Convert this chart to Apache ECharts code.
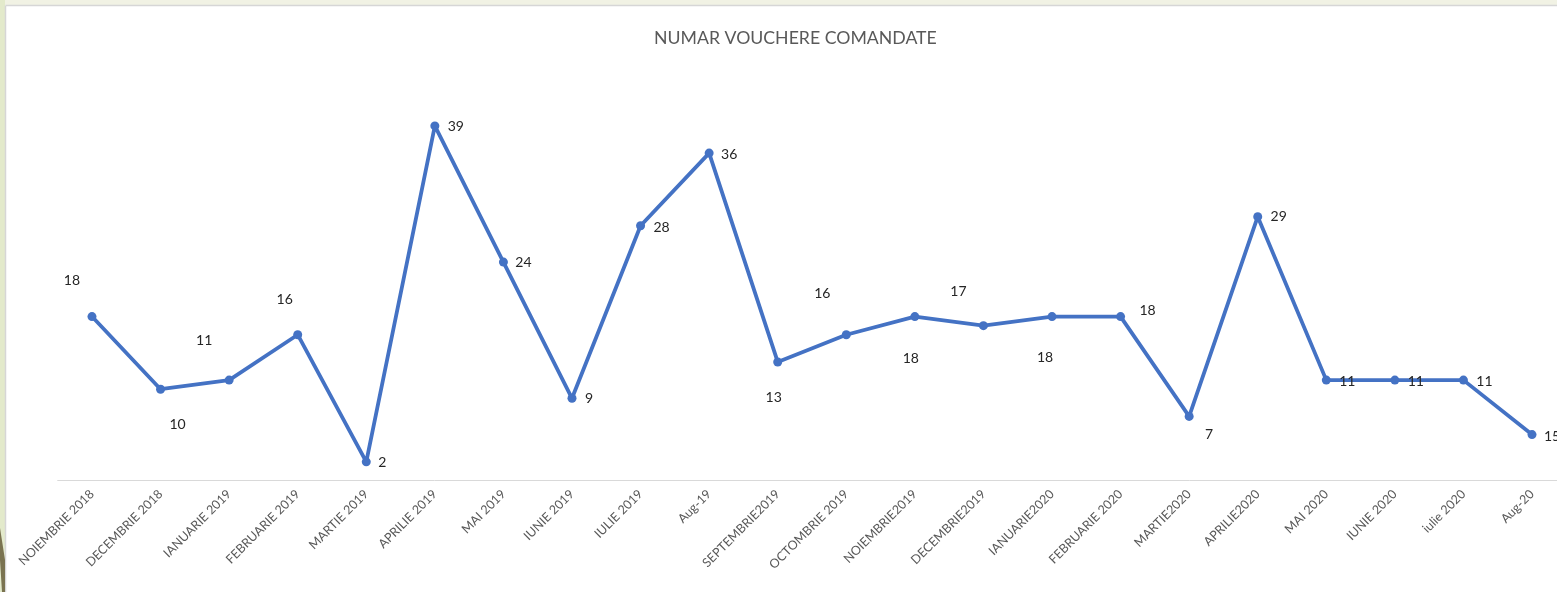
<!DOCTYPE html>
<html>
<head>
<meta charset="utf-8">
<title>NUMAR VOUCHERE COMANDATE</title>
<script src="https://cdn.jsdelivr.net/npm/echarts@6/dist/echarts.min.js"></script>
<style>
  html, body { margin: 0; padding: 0; background: #ffffff; overflow: hidden; }
  /* zona graficului continua dincolo de marginea dreapta, ca in slide */
  #chart { width: 1567px; height: 592px; }
</style>
</head>
<body>
<div id="chart"></div>
<script>
// luni (categorii)
var months = [
  'NOIEMBRIE 2018', 'DECEMBRIE 2018', 'IANUARIE 2019', 'FEBRUARIE 2019', 'MARTIE 2019',
  'APRILIE 2019', 'MAI 2019', 'IUNIE 2019', 'IULIE 2019', 'Aug-19',
  'SEPTEMBRIE2019', 'OCTOMBRIE 2019', 'NOIEMBRIE2019', 'DECEMBRIE2019', 'IANUARIE2020',
  'FEBRUARIE 2020', 'MARTIE2020', 'APRILIE2020', 'MAI 2020', 'IUNIE 2020',
  'iulie 2020', 'Aug-20'
];
// numar vouchere comandate
var vouchers = [18, 10, 11, 16, 2, 39, 24, 9, 28, 36, 13, 16, 18, 17, 18, 18, 7, 29, 11, 11, 11, 5];
// etichetele afisate in grafic
var labelTexts = ['18', '10', '11', '16', '2', '39', '24', '9', '28', '36', '13', '16', '18', '17', '18', '18', '7', '29', '11', '11', '11', '15'];

// pozitia etichetelor fata de punct (stil)
var labelOffsets = [
  [-20, -36], [17, 35], [-25, -40], [-13, -35], [16, 1], [21, 1], [20, 0], [17, 0],
  [21, 2], [20, 1], [-4, 36], [-24, -41], [-4, 42], [-25, -34], [-7, 41], [27, -6],
  [20, 18], [21, 0], [21, 1], [21, 1], [21, 1], [20, 2]
];

var seriesData = vouchers.map(function (v, i) {
  return {
    value: v,
    label: { offset: labelOffsets[i] }
  };
});

var myChart = echarts.init(document.getElementById('chart'));
myChart.setOption({
  backgroundColor: '#ffffff',
  animation: false,
  title: {
    text: 'NUMAR VOUCHERE COMANDATE',
    left: 649,
    top: 24,
    textStyle: {
      color: '#595959',
      fontFamily: 'Lato',
      fontWeight: 'normal',
      fontSize: 17.7
    }
  },
  // rama de slide (fundal bej)
  graphic: [
    { type: 'rect', shape: { x: 0, y: 0, width: 1567, height: 5 }, style: { fill: '#f1f2e4' }, silent: true },
    { type: 'rect', shape: { x: 0, y: 0, width: 5, height: 592 }, style: { fill: '#e3eacb' }, silent: true },
    { type: 'line', shape: { x1: 5.5, y1: 5.5, x2: 1567, y2: 5.5 }, style: { stroke: '#d6d6d6', lineWidth: 1.5 }, silent: true },
    { type: 'line', shape: { x1: 5.5, y1: 5.5, x2: 5.5, y2: 592 }, style: { stroke: '#d6d6d6', lineWidth: 1.5 }, silent: true },
    { type: 'polygon', shape: { points: [[0, 528], [5, 560], [5, 592], [2, 592], [0, 560]] }, style: { fill: '#7a7350' }, silent: true }
  ],
  grid: {
    left: 57.7,
    right: 0.7,
    top: 116.8,
    bottom: 112
  },
  xAxis: {
    type: 'category',
    data: months,
    boundaryGap: true,
    axisLine: { lineStyle: { color: '#d9d9d9', width: 1 } },
    axisTick: { show: false },
    axisLabel: {
      rotate: 45,
      interval: 0,
      margin: 12,
      color: '#595959',
      fontFamily: 'Lato',
      fontSize: 12.5
    }
  },
  yAxis: {
    type: 'value',
    min: 0,
    max: 40,
    show: false,
    splitLine: { show: false }
  },
  series: [
    {
      type: 'line',
      data: seriesData,
      symbol: 'circle',
      symbolSize: 9,
      itemStyle: { color: '#4472c4' },
      lineStyle: { color: '#4472c4', width: 3.8 },
      label: {
        show: true,
        position: 'inside',
        align: 'center',
        verticalAlign: 'middle',
        color: '#262626',
        fontFamily: 'Lato',
        fontSize: 14,
        formatter: function (p) { return labelTexts[p.dataIndex]; }
      }
    }
  ]
});
</script>
</body>
</html>
